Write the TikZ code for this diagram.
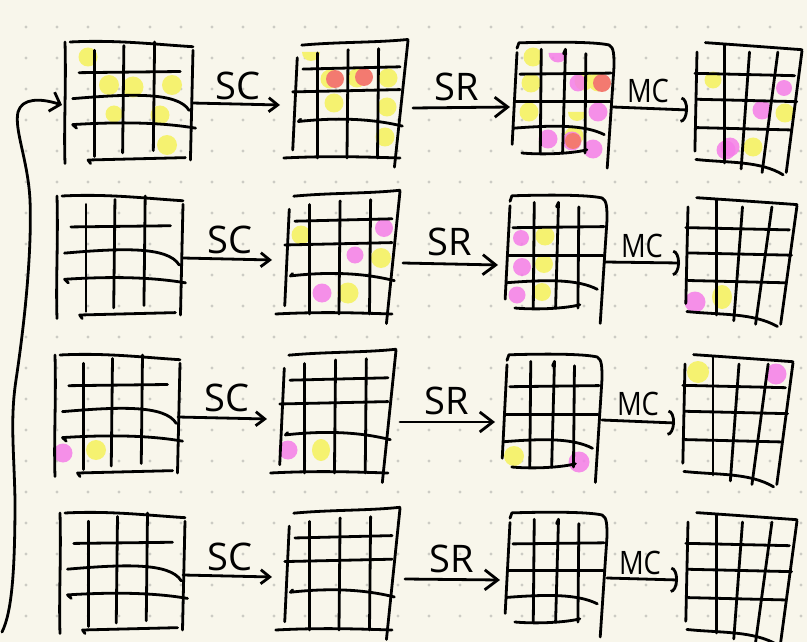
\documentclass[tikz,border=0pt]{standalone}
\usepackage{fontspec}
\newfontfamily\hand{Open Sans}
\usetikzlibrary{arrows.meta}
\definecolor{paper}{RGB}{248,246,235}
\definecolor{griddot}{RGB}{204,203,196}
\definecolor{hlY}{RGB}{245,242,112}
\definecolor{hlM}{RGB}{245,125,232}
\definecolor{hlR}{RGB}{243,122,112}
\tikzset{
  ink/.style={line width=2.8pt, line cap=round, line join=round, black},
  lbl/.style={font=\hand\fontsize{38}{38}\selectfont, inner sep=0pt},
  scarrow/.style={ink, -{Straight Barb[length=9pt, width=14pt]}},
  srarrow/.style={ink, -{Straight Barb[length=13pt, width=20pt]}},
  mcarrow/.style={ink, -{Arc Barb[length=7pt, width=26pt]}},
  hdotY/.style={fill=hlY},
  hdotM/.style={fill=hlM, fill opacity=0.85},
  hdotR/.style={fill=hlR},
}
\newcommand\hd[4][9.5]{\fill[#2] (#3,#4) circle[radius=#1pt];}
\newcommand\hsemi[4][9]{\fill[#2] (#3-#1,#4) arc[start angle=180, end angle=360, radius=#1pt] -- cycle;}
% column 1 grid
\newcommand\gridcolA[4]{%
 \begin{scope}[shift={(#1pt,-#2pt)},x=#3pt,y=-#4pt]
 \draw[ink] (0,0) .. controls (0.01,0.4) and (-0.01,0.7) .. (0,1.03);
 \draw[ink] (0.04,0) .. controls (0.4,-0.02) and (0.7,0.02) .. (1,0.04);
 \draw[ink] (1,0.07) -- (0.98,1.0);
 \draw[ink] (0.2,1.03) -- (0.18,1.0) -- (0.94,0.98);
 \draw[ink] (0.23,0.07) -- (0.23,0.97);
 \draw[ink] (0.46,0.03) -- (0.45,0.94);
 \draw[ink] (0.70,0.0) -- (0.69,0.92);
 \draw[ink] (0.11,0.26) -- (0.90,0.25);
 \draw[ink] (0.06,0.48) .. controls (0.5,0.44) and (0.88,0.42) .. (0.97,0.58);
 \draw[ink] (0.09,0.73) -- (0.06,0.70) .. controls (0.5,0.67) and (0.8,0.69) .. (1.02,0.73);
 \end{scope}}
% column 2 grid
\newcommand\gridcolB[4]{%
 \begin{scope}[shift={(#1pt,-#2pt)},x=#3pt,y=-#4pt]
 \draw[ink] (0.02,0.12) -- (-0.02,0.93);
 \draw[ink] (0.06,0.01) .. controls (0.4,-0.02) and (0.7,-0.01) .. (1,-0.04);
 \draw[ink] (1,-0.03) -- (0.88,1.08);
 \draw[ink] (-0.1,1.0) .. controls (0.3,0.98) and (0.6,0.99) .. (0.93,1.0);
 \draw[ink] (0.20,0.08) -- (0.20,1.0);
 \draw[ink] (0.47,0.05) -- (0.46,1.0);
 \draw[ink] (0.74,0.04) -- (0.73,1.0);
 \draw[ink] (0.07,0.22) -- (0.93,0.20);
 \draw[ink] (-0.02,0.42) -- (0.93,0.40);
 \draw[ink] (0.05,0.66) -- (0.03,0.68) .. controls (0.4,0.64) and (0.7,0.66) .. (0.95,0.72);
 \end{scope}}
% column 3 grid
\newcommand\gridcolC[4]{%
 \begin{scope}[shift={(#1pt,-#2pt)},x=#3pt,y=-#4pt]
 \draw[ink] (0.0,0.07) -- (-0.05,0.92);
 \draw[ink] (0.0,0.03) -- (0.02,-0.02) .. controls (0.4,-0.03) and (0.8,-0.03) .. (0.95,0.0) .. controls (1.0,0.02) and (1.0,0.1) .. (1.0,0.2) -- (0.93,1.14);
 \draw[ink] (0.25,0.04) -- (0.24,1.0);
 \draw[ink] (0.48,0.08) -- (0.50,0.04) -- (0.47,1.0);
 \draw[ink] (0.71,0.08) -- (0.70,1.0);
 \draw[ink] (0.03,0.27) -- (0.97,0.26);
 \draw[ink] (-0.02,0.52) -- (0.96,0.52);
 \draw[ink] (-0.03,0.77) .. controls (0.4,0.74) and (0.7,0.74) .. (0.9,0.83);
 \draw[ink] (0.05,1.0) .. controls (0.3,1.02) and (0.6,1.0) .. (0.72,0.97);
 \end{scope}}
% column 4 grid
\newcommand\gridcolD[4]{%
 \begin{scope}[shift={(#1pt,-#2pt)},x=#3pt,y=-#4pt]
 \draw[ink] (0.0,0.06) -- (-0.02,0.9);
 \draw[ink] (0.08,-0.02) .. controls (0.4,0.0) and (0.7,0.02) .. (1.0,0.04);
 \draw[ink] (1.0,0.05) -- (0.85,1.08);
 \draw[ink] (-0.01,0.97) .. controls (0.3,1.0) and (0.6,0.98) .. (0.82,1.1);
 \draw[ink] (0.26,0.0) -- (0.26,1.0);
 \draw[ink] (0.50,0.06) -- (0.42,1.05);
 \draw[ink] (0.77,0.06) -- (0.62,1.08);
 \draw[ink] (-0.02,0.24) -- (0.93,0.26);
 \draw[ink] (0.0,0.46) -- (0.95,0.48);
 \draw[ink] (0.0,0.70) -- (0.9,0.72);
 \end{scope}}
\begin{document}
\begin{tikzpicture}[x=1pt,y=-1pt]
\useasboundingbox (0,0) rectangle (807,642);
\fill[paper] (0,0) rectangle (807,642);
\foreach \gx in {26,57,...,810} {\foreach \gy in {27,58,...,640} {\fill[griddot] (\gx,\gy) circle[radius=1.7pt];}}

% ---------- highlight dots ----------
% row 1, grid 1
\hd{hdotY}{88}{57}\hd[10]{hdotY}{109}{85}\hd[10.5]{hdotY}{133}{87}\hd[10]{hdotY}{172}{85}
\hd[8.5]{hdotY}{114}{114}\hd{hdotY}{160}{115}\hd[10]{hdotY}{167}{145}
% row 1, grid 2
\hsemi{hdotY}{311}{52}\hd{hdotY}{330}{79}\hd[9]{hdotR}{335}{79}
\hd{hdotY}{357}{78}\hd[9]{hdotR}{364}{77}\hd{hdotY}{388}{78}
\hd{hdotY}{334}{103}\hd{hdotY}{387}{107}\hd{hdotY}{385}{137}
% row 1, grid 3
\hd{hdotY}{533}{57}\hsemi[9.5]{hdotM}{558}{53}\hd{hdotY}{531}{83}
\hd{hdotY}{584}{81}\hd[8.5]{hdotM}{578}{83}\hd{hdotY}{598}{82}\hd[9]{hdotR}{602}{83}
\hd{hdotY}{529}{112}\hsemi{hdotY}{577}{112}\hd{hdotM}{598}{112}
\hd{hdotM}{548}{139}\hd{hdotY}{574}{136}\hd{hdotM}{572}{141}\hd[8]{hdotR}{573}{141}\hd{hdotM}{593}{149}
% row 1, grid 4
\hd[8.5]{hdotY}{713}{80}\hd[8]{hdotM}{784}{88}\hd{hdotM}{762}{110}\hd{hdotY}{785}{113}
\hd{hdotM}{726}{150}\hd{hdotM}{730}{147}\hd{hdotY}{753}{147}
% row 2, grid 2
\hd{hdotY}{301}{235}\hd[9]{hdotM}{384}{228}\hd[8.5]{hdotM}{355}{255}\hd[10]{hdotY}{381}{258}
\hd[9.5]{hdotM}{322}{293}\hd[10.5]{hdotY}{348}{293}
% row 2, grid 3
\hd[8]{hdotM}{521}{238}\hd[9.5]{hdotY}{545}{236}\hd[9]{hdotM}{522}{267}\hd[9]{hdotY}{544}{264}
\hd[8.5]{hdotM}{517}{295}\hd[9]{hdotY}{542}{292}
% row 2, grid 4
\hd[10.5]{hdotM}{695}{302}\fill[hdotY] (722,297) ellipse[x radius=10pt, y radius=12pt];
% row 3
\hd[9.5]{hdotM}{63}{453}\hd[10]{hdotY}{96}{450}
\hd[9.5]{hdotM}{288}{450}\fill[hdotY] (321,450) ellipse[x radius=9pt, y radius=11pt];
\hd[10]{hdotY}{514}{456}\hd[10.5]{hdotM}{579}{462}
\hd[11]{hdotY}{698}{372}\hd[10.5]{hdotM}{776}{374}

% ---------- grids ----------
\gridcolA{65}{42}{128}{118}
\gridcolA{57}{196}{126}{119}
\gridcolA{55}{355}{125}{118}
\gridcolA{60}{513}{125}{117}
\gridcolB{295}{44}{113}{114}
\gridcolB{287}{195}{113}{119}
\gridcolB{282}{354}{114}{119}
\gridcolB{287}{512}{113}{118}
\gridcolC{517}{45}{97}{108}
\gridcolC{510}{198}{97}{110}
\gridcolC{507}{357}{95}{110}
\gridcolC{510}{515}{97}{107}
\gridcolD{697}{45}{105}{118}
\gridcolD{688}{200}{109}{115}
\gridcolD{685}{357}{108}{118}
\gridcolD{688}{515}{109}{118}

% ---------- arrow ends ----------
\coordinate (sc1s) at (192,103); \coordinate (sc1e) at (280,105);
\coordinate (sr1s) at (413,108); \coordinate (sr1e) at (510,107);
\coordinate (mc1s) at (613,107); \coordinate (mc1e) at (688,110);
\coordinate (sc2s) at (183,258); \coordinate (sc2e) at (272,260);
\coordinate (sr2s) at (403,263); \coordinate (sr2e) at (498,265);
\coordinate (mc2s) at (605,262); \coordinate (mc2e) at (680,263);
\coordinate (sc3s) at (178,417); \coordinate (sc3e) at (267,419);
\coordinate (sr3s) at (400,422); \coordinate (sr3e) at (495,422);
\coordinate (mc3s) at (602,420); \coordinate (mc3e) at (675,423);
\coordinate (sc4s) at (183,575); \coordinate (sc4e) at (272,577);
\coordinate (sr4s) at (405,579); \coordinate (sr4e) at (500,580);
\coordinate (mc4s) at (607,578); \coordinate (mc4e) at (678,580);

\foreach \r in {1,2,3,4} {
  \draw[scarrow] (sc\r s) -- (sc\r e);
  \draw[srarrow] (sr\r s) -- (sr\r e);
  \draw[mcarrow] (mc\r s) -- (mc\r e);
}

% ---------- labels ----------
\node[lbl] (lsc1) at (238,86) {SC};
\node[lbl] (lsr1) at (457,87) {SR};
\node[lbl] (lmc1) at (648,91) {\scalebox{0.72}[0.85]{MC}};
\node[lbl] (lsc2) at (230,240) {SC};
\node[lbl] (lsr2) at (450,242) {SR};
\node[lbl] (lmc2) at (642,246) {\scalebox{0.72}[0.85]{MC}};
\node[lbl] (lsc3) at (227,398) {SC};
\node[lbl] (lsr3) at (447,401) {SR};
\node[lbl] (lmc3) at (638,404) {\scalebox{0.72}[0.85]{MC}};
\node[lbl] (lsc4) at (230,557) {SC};
\node[lbl] (lsr4) at (452,559) {SR};
\node[lbl] (lmc4) at (640,563) {\scalebox{0.72}[0.85]{MC}};

% ---------- feedback loop ----------
\coordinate (loopstart) at (2,632);
\coordinate (loopend) at (62,105);
\draw[ink, -{Straight Barb[length=9pt, width=20pt]}] (loopstart)
  .. controls (12,612) and (15,570) .. (15,500)
  .. controls (14,450) and (10,420) .. (16,380)
  .. controls (25,320) and (32,250) .. (30,200)
  .. controls (28,160) and (14,130) .. (18,112)
  .. controls (22,98) and (40,98) .. (loopend);
\end{tikzpicture}
\end{document}
